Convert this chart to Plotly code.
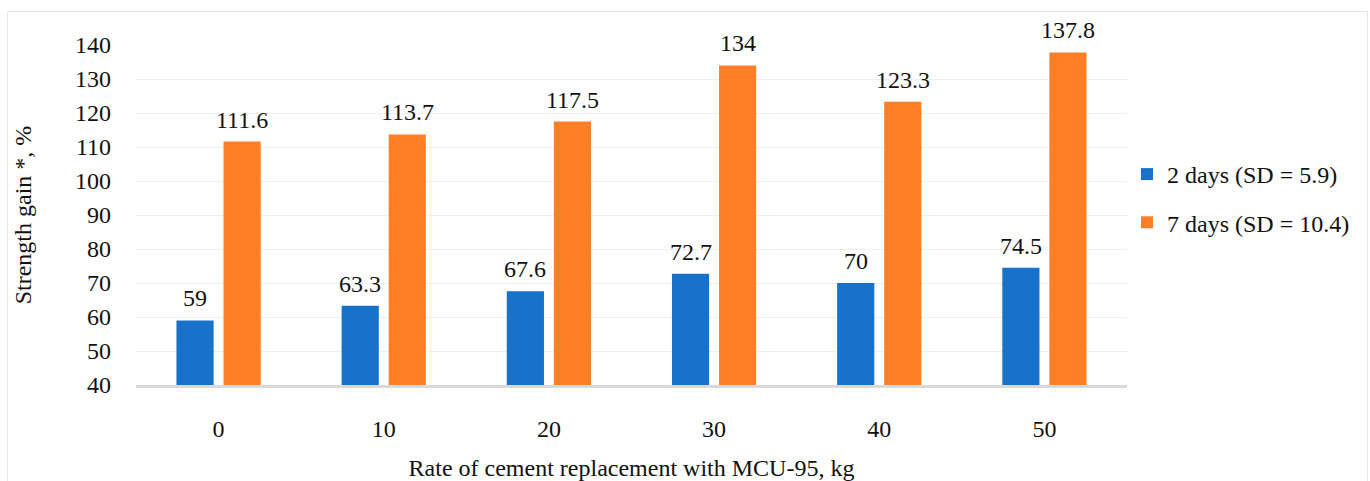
import plotly.graph_objects as go

# Cement replacement rate with MCU-95 (kg) and relative strength gain (%)
categories = ["0", "10", "20", "30", "40", "50"]
gain_2_days = [59, 63.3, 67.6, 72.7, 70, 74.5]
gain_7_days = [111.6, 113.7, 117.5, 134, 123.3, 137.8]
series_names = ["2 days (SD = 5.9)", "7 days (SD = 10.4)"]
y_ticks = [40, 50, 60, 70, 80, 90, 100, 110, 120, 130, 140]

FONT = "Liberation Serif"
FS = 24
BLUE = "#1872C9"
ORANGE = "#FF7F27"
TXT = "#111111"
BORDER = "#E6E6E6"
L, R, T, B = 136, 243, 45, 96
W, H = 1370, 481


def fnt(size=FS):
    return dict(family=FONT, size=size, color=TXT)


fig = go.Figure()
fig.add_trace(go.Bar(x=categories, y=gain_2_days, name=series_names[0],
                     legendgroup="d2",
                     marker=dict(color=BLUE, line=dict(width=0))))
fig.add_trace(go.Bar(x=categories, y=gain_7_days, name=series_names[1],
                     legendgroup="d7",
                     marker=dict(color=ORANGE, line=dict(width=0))))

# value labels above each bar (x given as category index)
annotations = []
for trace_idx, values in enumerate([gain_2_days, gain_7_days]):
    for i, v in enumerate(values):
        annotations.append(dict(
            x=i, y=v, xref="x", yref="y",
            text=f"{v:g}", showarrow=False, yanchor="bottom",
            yshift=7, xshift=(-23.5 if trace_idx == 0 else 23.5),
            font=fnt(),
        ))


def px_x(p):
    return (p - L) / (W - L - R)


def px_y(p):
    return (H - B - p) / (H - T - B)


# thin frame around the chart area (left, top, right edges)
frame = [
    dict(type="line", xref="paper", yref="paper", x0=px_x(7.5), x1=px_x(7.5),
         y0=px_y(11.5), y1=px_y(481), line=dict(color=BORDER, width=1)),
    dict(type="line", xref="paper", yref="paper", x0=px_x(7.5), x1=px_x(1367.5),
         y0=px_y(11.5), y1=px_y(11.5), line=dict(color=BORDER, width=1)),
    dict(type="line", xref="paper", yref="paper", x0=px_x(1367.5), x1=px_x(1367.5),
         y0=px_y(11.5), y1=px_y(481), line=dict(color=BORDER, width=1)),
]

fig.update_layout(
    width=W, height=H,
    margin=dict(l=L, r=R, t=T, b=B, autoexpand=False),
    paper_bgcolor="white", plot_bgcolor="white",
    barmode="group", bargap=0.43, bargroupgap=0.21,
    font=fnt(),
    annotations=annotations,
    showlegend=True,
    legend=dict(x=px_x(1127), y=px_y(152), xanchor="left", yanchor="top",
                font=fnt(), tracegroupgap=14,
                itemwidth=30, itemsizing="constant",
                bgcolor="rgba(0,0,0,0)"),
    xaxis=dict(type="category", range=[-0.5, len(categories) - 0.5],
               automargin=False, showgrid=False, showline=True,
               linecolor="#D9D9D9", linewidth=3,
               ticks="", ticklabelstandoff=20, tickfont=fnt(),
               title=dict(text="Rate of cement replacement with MCU-95, kg",
                          font=fnt(), standoff=22)),
    yaxis=dict(range=[40, 140], tickvals=y_ticks, automargin=False,
               showgrid=True, gridcolor="#EFEFEF", gridwidth=1,
               zeroline=False, showline=False,
               ticks="", ticklabelstandoff=24, tickfont=fnt(),
               title=dict(text="Strength gain *, %", font=fnt(), standoff=36)),
    shapes=frame,
)

fig.write_html("out.html")
